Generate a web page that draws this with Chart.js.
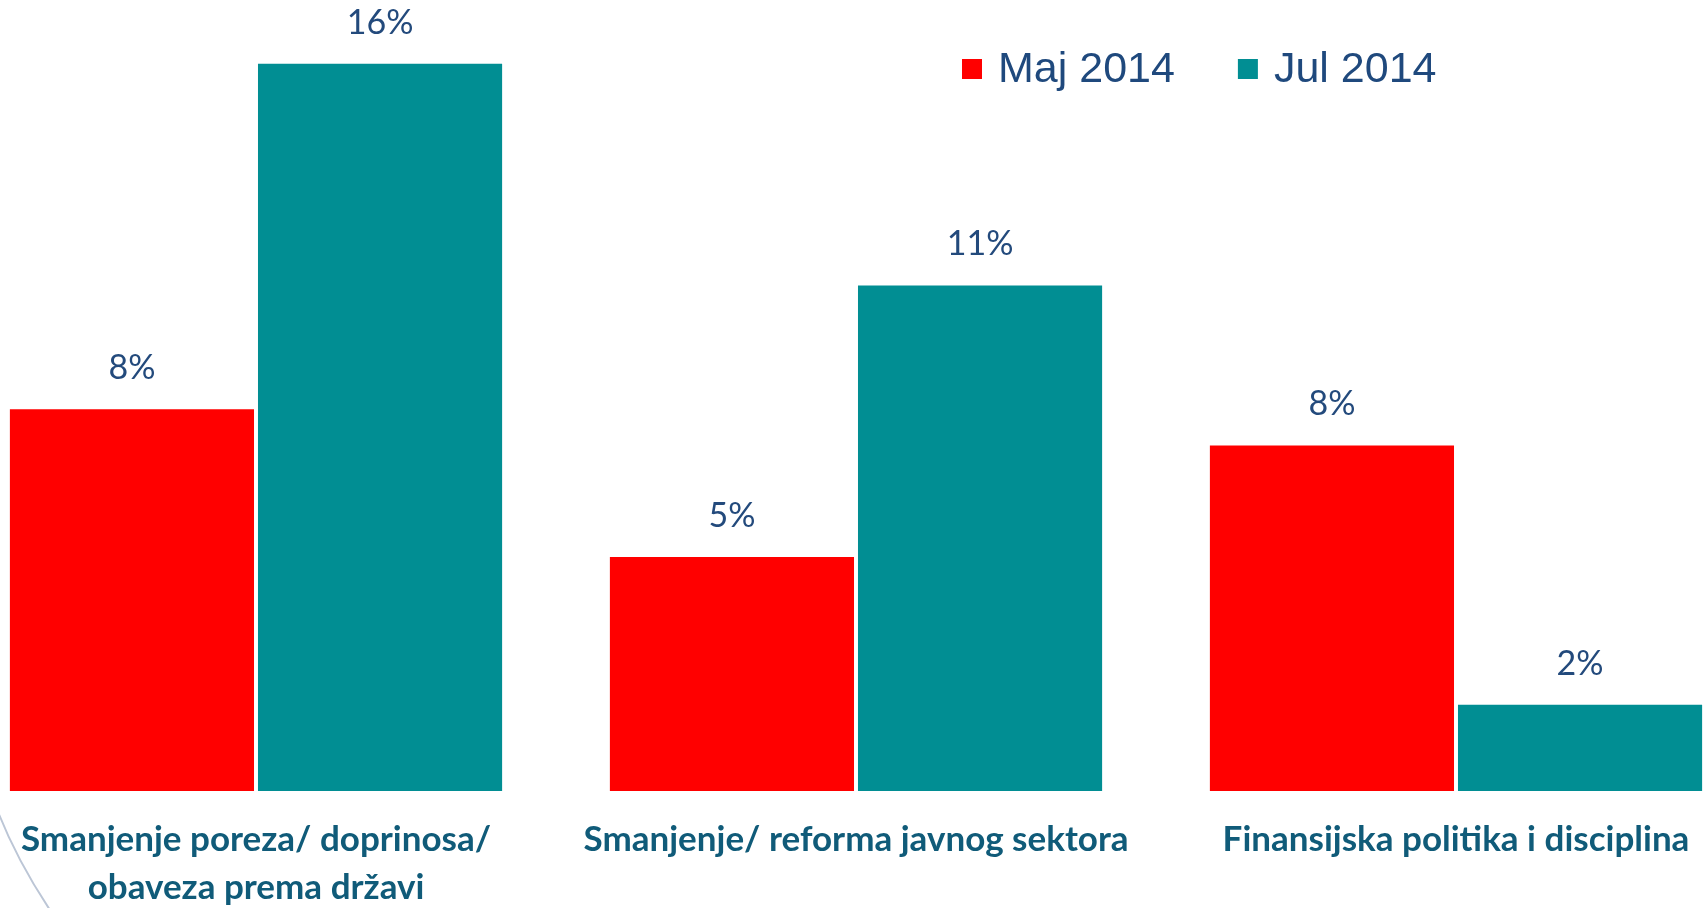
<!DOCTYPE html>
<html>
<head>
<meta charset="utf-8">
<script src="https://cdn.jsdelivr.net/npm/chart.js@4/dist/chart.umd.min.js"></script>
<style>
  html, body { margin: 0; padding: 0; background: #ffffff; overflow: hidden; width: 1708px; height: 908px; }
  #wrap { position: absolute; left: -44px; top: 0; width: 1800px; height: 908px; }
</style>
</head>
<body>
<div id="wrap"><canvas id="c" width="1800" height="908"></canvas></div>
<script>
// ---- data ----
const categories = [
  ["Smanjenje poreza/ doprinosa/", "obaveza prema državi"],
  "Smanjenje/ reforma javnog sektora",
  "Finansijska politika i disciplina"
];
const seriesNames = ["Maj 2014", "Jul 2014"];
const maj2014 = [8.4, 5.15, 7.6];
const jul2014 = [16.0, 11.12, 1.9];

// ---- styles ----
const PAGE_OFFSET = 44;           // canvas starts 44px left of the page
const colRed = "#FF0000";
const colTeal = "#018E93";
const labelColor = "#234A7C";
const axisLabelColor = "#105B79";
const legendColor = "#1F497D";

const valueLabelPlugin = {
  id: "valueLabels",
  afterDatasetsDraw(chart) {
    const ctx = chart.ctx;
    ctx.save();
    ctx.font = "34px Lato";
    ctx.fillStyle = labelColor;
    ctx.textAlign = "center";
    ctx.textBaseline = "middle";
    chart.data.datasets.forEach((ds, i) => {
      const meta = chart.getDatasetMeta(i);
      meta.data.forEach((el, j) => {
        ctx.fillText(Math.round(ds.data[j]) + "%", el.x, el.y - 41);
      });
    });
    ctx.restore();
  }
};

const legendPlugin = {
  id: "customLegend",
  afterDraw(chart) {
    const ctx = chart.ctx;
    ctx.save();
    ctx.font = "43px 'Liberation Sans', Arial, sans-serif";
    ctx.textBaseline = "middle";
    ctx.textAlign = "left";
    let x = 962 + PAGE_OFFSET;
    const yTop = 59, box = 20;
    chart.data.datasets.forEach((ds) => {
      ctx.fillStyle = ds.backgroundColor;
      ctx.fillRect(x, yTop, box, box);
      ctx.fillStyle = legendColor;
      const tx = x + 36;
      ctx.fillText(ds.label, tx, yTop + box / 2 + 1);
      x = tx + ctx.measureText(ds.label).width + 63;
    });
    ctx.restore();
  }
};

const arcPlugin = {
  id: "decoArc",
  beforeDraw(chart) {
    const ctx = chart.ctx;
    ctx.save();
    ctx.strokeStyle = "#BCC6D6";
    ctx.lineWidth = 2;
    ctx.beginPath();
    ctx.moveTo(PAGE_OFFSET - 2, 812);
    ctx.quadraticCurveTo(PAGE_OFFSET + 18, 862, PAGE_OFFSET + 50, 910);
    ctx.stroke();
    ctx.restore();
  }
};

new Chart(document.getElementById("c"), {
  type: "bar",
  data: {
    labels: categories,
    datasets: [
      { label: seriesNames[0], data: maj2014, backgroundColor: colRed },
      { label: seriesNames[1], data: jul2014, backgroundColor: colTeal }
    ]
  },
  options: {
    responsive: false,
    animation: false,
    devicePixelRatio: 1,
    layout: { padding: 0 },
    datasets: {
      bar: { categoryPercentage: 0.827, barPercentage: 0.984, borderWidth: 0 }
    },
    plugins: {
      legend: { display: false },
      tooltip: { enabled: false },
      title: { display: false }
    },
    scales: {
      x: {
        grid: { display: false, drawTicks: false },
        border: { display: false },
        ticks: {
          color: axisLabelColor,
          font: { family: "Lato", weight: "bold", size: 35, lineHeight: 1.37 },
          padding: 25,
          maxRotation: 0,
          autoSkip: false
        },
        afterFit(scale) { scale.height = 117; }
      },
      y: {
        display: false,
        min: 0,
        max: 17.4
      }
    }
  },
  plugins: [arcPlugin, valueLabelPlugin, legendPlugin]
});
</script>
</body>
</html>
